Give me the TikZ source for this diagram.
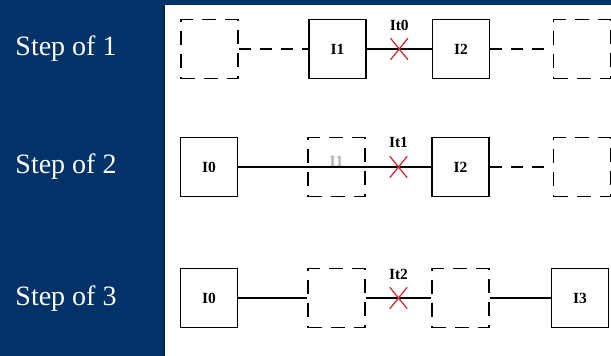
\documentclass[tikz,border=0pt]{standalone}
\usepackage{fontspec}
\setmainfont{Liberation Serif}
\usetikzlibrary{shapes.misc,calc}
\definecolor{navy}{RGB}{1,51,104}
\definecolor{navydark}{RGB}{0,38,80}
\definecolor{xred}{RGB}{205,45,55}
\begin{document}
\begin{tikzpicture}[x=1pt,y=-1pt,
 box/.style={draw=black,line width=1.6pt,minimum width=57pt,minimum height=59pt,inner sep=0pt,font=\fontsize{15.5}{18}\selectfont\bfseries},
 ghost/.style={box,dash pattern=on 14pt off 9pt},
 wire/.style={draw=black,line width=1.6pt},
 dwire/.style={wire,dash pattern=on 12pt off 9pt},
 cut/.style={cross out,draw=xred,line width=1.3pt,minimum width=16pt,minimum height=20pt,inner sep=0pt},
 tag/.style={font=\fontsize{15.5}{18}\selectfont\bfseries,inner sep=0pt},
 steplabel/.style={text=white,font=\fontsize{28}{30}\selectfont,inner sep=0pt}]
\useasboundingbox (0,0) rectangle (611,356);
\fill[navy] (0,0) rectangle (611,356);
\fill[white] (165,5) rectangle (611,356);
\draw[navydark,line width=2pt] (164,5) -- (164,356);

% step labels
\node[steplabel] (s1) at (66,49) {Step of 1};
\node[steplabel] (s2) at (66,167) {Step of 2};
\node[steplabel] (s3) at (66,299) {Step of 3};

% row 1
\node[ghost] (a0) at (209.5,49) {};
\node[box] (a1) at (337.5,49) {I1};
\node[box] (a2) at (461,49) {I2};
\node[ghost] (a3) at (582,49) {};
\draw[dwire] (a0) -- (a1);
\draw[wire] (a1) -- node[cut] (ax) {} (a2);
\node[tag] (al) at ([yshift=24pt]ax.center) {It0};
\draw[dwire] (a2) -- (a3);

% row 2
\node[box] (b0) at (209,167) {I0};
\node[ghost] (b1) at (336.5,167) {};
\node[tag,text=black!30] (b1t) at (336.5,161) {I1};
\node[box] (b2) at (460.5,167) {I2};
\node[ghost] (b3) at (582,167) {};
\draw[wire] (b0) -- (b1);
\draw[wire] (b1.west) -- (b1.east);
\draw[wire] (b1) -- node[cut] (bx) {} (b2);
\node[tag] (bl) at ([yshift=25pt]bx.center) {It1};
\draw[dwire] (b2) -- (b3);

% row 3
\node[box] (c0) at (209,298) {I0};
\node[ghost] (c1) at (336.5,298) {};
\node[ghost] (c2) at (460.5,298) {};
\node[box] (c3) at (580,298) {I3};
\draw[wire] (c0) -- (c1);
\draw[wire] (c1) -- node[cut] (cx) {} (c2);
\node[tag] (cl) at ([yshift=24pt]cx.center) {It2};
\draw[wire] (c2) -- (c3);
\end{tikzpicture}
\end{document}
